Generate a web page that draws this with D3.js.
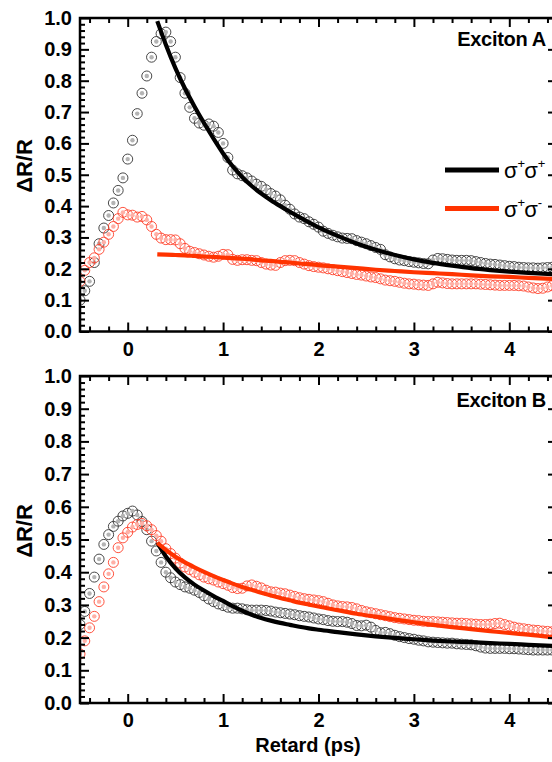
<!DOCTYPE html>
<html>
<head>
<meta charset="utf-8">
<script src="https://cdn.jsdelivr.net/npm/d3@7"></script>
<style>
  html, body { margin: 0; padding: 0; background: #fff; }
  svg { display: block; }
  text { font-family: "Liberation Sans", Arial, sans-serif; }
</style>
</head>
<body>
<svg id="chart" width="552" height="762"></svg>
<script>
// Pump-probe delay (ps)
const delays = [
  -0.50,-0.45,-0.40,-0.35,-0.30,-0.25,-0.20,-0.15,-0.10,-0.05,
   0.00, 0.05, 0.10, 0.15, 0.20, 0.25, 0.30, 0.35, 0.40, 0.45,
   0.50, 0.55, 0.60, 0.65, 0.70, 0.75, 0.80, 0.85, 0.90, 0.95,
   1.00, 1.05, 1.10, 1.15, 1.20, 1.25, 1.30, 1.35, 1.40, 1.45,
   1.50, 1.55, 1.60, 1.65, 1.70, 1.75, 1.80, 1.85, 1.90, 1.95,
   2.00, 2.05, 2.10, 2.15, 2.20, 2.25, 2.30, 2.35, 2.40, 2.45,
   2.50, 2.55, 2.60, 2.65, 2.70, 2.75, 2.80, 2.85, 2.90, 2.95,
   3.00, 3.05, 3.10, 3.15, 3.20, 3.25, 3.30, 3.35, 3.40, 3.45,
   3.50, 3.55, 3.60, 3.65, 3.70, 3.75, 3.80, 3.85, 3.90, 3.95,
   4.00, 4.05, 4.10, 4.15, 4.20, 4.25, 4.30, 4.35, 4.40, 4.45,
   4.50
];

// Exciton A, co-circular (σ+σ+)
const excitonA_co = [
  0.100,0.130,0.160,0.220,0.280,0.330,0.370,0.410,0.450,0.490,
  0.550,0.610,0.695,0.760,0.815,0.875,0.925,0.950,0.955,0.925,
  0.875,0.810,0.760,0.715,0.680,0.665,0.658,0.662,0.655,0.635,
  0.600,0.555,0.515,0.503,0.497,0.490,0.480,0.470,0.463,0.452,
  0.440,0.432,0.420,0.403,0.390,0.375,0.365,0.360,0.350,0.342,
  0.333,0.320,0.313,0.307,0.302,0.298,0.297,0.296,0.290,0.285,
  0.280,0.274,0.268,0.262,0.245,0.238,0.232,0.228,0.226,0.223,
  0.221,0.219,0.217,0.216,0.228,0.233,0.232,0.230,0.228,0.227,
  0.227,0.227,0.226,0.223,0.220,0.217,0.215,0.214,0.212,0.210,
  0.208,0.207,0.205,0.204,0.203,0.203,0.202,0.203,0.204,0.205,
  0.204
];

// Exciton A, cross-circular (σ+σ-)
const excitonA_cross = [
  0.160,0.195,0.220,0.235,0.262,0.285,0.310,0.335,0.360,0.380,
  0.372,0.371,0.365,0.367,0.356,0.335,0.310,0.298,0.293,0.293,
  0.292,0.280,0.265,0.256,0.252,0.248,0.244,0.240,0.237,0.240,
  0.246,0.245,0.230,0.227,0.229,0.229,0.227,0.226,0.220,0.215,
  0.212,0.211,0.220,0.226,0.227,0.226,0.220,0.215,0.210,0.207,
  0.205,0.203,0.200,0.197,0.194,0.191,0.188,0.185,0.182,0.180,
  0.177,0.174,0.172,0.168,0.164,0.162,0.160,0.157,0.154,0.152,
  0.151,0.149,0.148,0.147,0.152,0.157,0.155,0.153,0.152,0.152,
  0.152,0.152,0.152,0.152,0.151,0.150,0.149,0.148,0.147,0.147,
  0.147,0.147,0.146,0.145,0.142,0.139,0.137,0.138,0.142,0.146,
  0.147
];

// Exciton B, co-circular (σ+σ+)
const excitonB_co = [
  0.240,0.280,0.335,0.385,0.440,0.485,0.515,0.540,0.556,0.572,
  0.580,0.587,0.575,0.555,0.530,0.495,0.465,0.430,0.400,0.383,
  0.370,0.362,0.355,0.351,0.345,0.338,0.328,0.318,0.310,0.303,
  0.298,0.293,0.290,0.290,0.288,0.285,0.284,0.284,0.284,0.283,
  0.281,0.278,0.276,0.274,0.272,0.270,0.267,0.265,0.263,0.260,
  0.257,0.255,0.252,0.250,0.249,0.249,0.247,0.243,0.237,0.236,
  0.238,0.232,0.222,0.215,0.216,0.212,0.207,0.203,0.200,0.197,
  0.195,0.192,0.190,0.187,0.186,0.185,0.184,0.183,0.183,0.181,
  0.180,0.179,0.178,0.175,0.171,0.168,0.167,0.167,0.167,0.167,
  0.166,0.166,0.165,0.164,0.163,0.162,0.162,0.162,0.162,0.162,
  0.162
];

// Exciton B, cross-circular (σ+σ-)
const excitonB_cross = [
  0.150,0.190,0.230,0.265,0.310,0.355,0.395,0.430,0.475,0.505,
  0.522,0.538,0.546,0.549,0.542,0.530,0.512,0.495,0.472,0.457,
  0.443,0.428,0.416,0.408,0.400,0.392,0.385,0.380,0.376,0.370,
  0.365,0.360,0.353,0.350,0.351,0.358,0.361,0.357,0.352,0.345,
  0.340,0.339,0.336,0.334,0.330,0.326,0.322,0.319,0.317,0.315,
  0.313,0.310,0.305,0.300,0.297,0.295,0.294,0.292,0.288,0.283,
  0.279,0.276,0.273,0.270,0.267,0.264,0.261,0.259,0.257,0.255,
  0.253,0.252,0.250,0.249,0.249,0.248,0.247,0.246,0.245,0.244,
  0.244,0.243,0.242,0.241,0.240,0.240,0.241,0.243,0.244,0.240,
  0.236,0.232,0.229,0.227,0.225,0.223,0.222,0.220,0.219,0.218,
  0.218
];

// Decay fits, sampled on a shared delay grid (ps)
const fitDelays = [
  0.31,0.4,0.5,0.6,0.7,0.8,0.9,1.0,1.1,1.2,1.3,1.4,1.5,1.6,1.7,
  1.8,1.9,2.0,2.2,2.4,2.6,2.8,3.0,3.2,3.4,3.6,3.8,4.0,4.2,4.5
];
const fitA_co = [
  0.990,0.915,0.840,0.775,0.718,0.665,0.615,0.568,0.527,0.493,0.464,0.440,0.419,0.400,0.382,
  0.365,0.348,0.332,0.305,0.281,0.261,0.244,0.230,0.219,0.210,0.202,0.196,0.191,0.187,0.182
];
const fitA_cross = [
  0.246,0.245,0.244,0.243,0.241,0.239,0.238,0.236,0.234,0.232,0.230,0.227,0.225,0.222,0.220,
  0.217,0.215,0.212,0.207,0.202,0.197,0.193,0.189,0.186,0.183,0.179,0.176,0.174,0.171,0.167
];
const fitB_co = [
  0.490,0.448,0.412,0.384,0.362,0.344,0.327,0.312,0.296,0.282,0.270,0.260,0.252,0.245,0.239,
  0.233,0.228,0.224,0.217,0.210,0.204,0.199,0.195,0.191,0.188,0.186,0.183,0.181,0.178,0.174
];
const fitB_cross = [
  0.490,0.468,0.447,0.430,0.415,0.401,0.388,0.376,0.365,0.355,0.346,0.337,0.329,0.321,0.314,
  0.307,0.301,0.295,0.284,0.273,0.264,0.255,0.247,0.239,0.232,0.226,0.220,0.214,0.209,0.200
];

// Axis ticks
const xMajor = [0, 1, 2, 3, 4];
const yMajor = [0.0, 0.1, 0.2, 0.3, 0.4, 0.5, 0.6, 0.7, 0.8, 0.9, 1.0];
const xLabel = "Retard (ps)";
const yLabel = "\u0394R/R";
const legendItems = [
  { key: "co", base: "\u03c3", sup1: "+", sup2: "+" },
  { key: "cross", base: "\u03c3", sup1: "+", sup2: "-" }
];

const COLORS = {
  co:    { line: "#000000", stroke: "#333333", dot: "#b4b4b4" },
  cross: { line: "#ff3300", stroke: "#ff4029", dot: "#ffb0a6" }
};

const svg = d3.select("#chart");
const x = d3.scaleLinear().domain([-0.5, 4.5]).range([80, 557]);

const xMinor = d3.range(-0.4, 4.5, 0.2).filter(v => Math.abs(v - Math.round(v)) > 1e-6);
const yMinor = d3.range(0, 1.001, 0.02).filter(v => Math.abs(v * 10 - Math.round(v * 10)) > 1e-6);

const panels = [
  { top: 18, bottom: 331.5, co: excitonA_co, cross: excitonA_cross,
    fitCo: fitA_co, fitCross: fitA_cross, name: "Exciton A", nameY: 46,
    titleY: 166, legend: true },
  { top: 376, bottom: 703, co: excitonB_co, cross: excitonB_cross,
    fitCo: fitB_co, fitCross: fitB_cross, name: "Exciton B", nameY: 407,
    titleY: 531, legend: false }
];

panels.forEach((p, i) => {
  const y = d3.scaleLinear().domain([0, 1]).range([p.bottom, p.top]);
  const g = svg.append("g");

  const clipId = "clip" + i;
  svg.append("clipPath").attr("id", clipId)
    .append("rect")
    .attr("x", x.range()[0]).attr("y", p.top)
    .attr("width", x.range()[1] - x.range()[0])
    .attr("height", p.bottom - p.top);

  const plot = g.append("g").attr("clip-path", `url(#${clipId})`);

  // Measured points: open circles with a light centre
  [["co", p.co], ["cross", p.cross]].forEach(([key, vals]) => {
    const c = COLORS[key];
    const pts = delays.map((t, k) => ({ t, v: vals[k] }));
    const s = plot.append("g");
    s.selectAll("circle.ring").data(pts).join("circle")
      .attr("class", "ring")
      .attr("cx", d => x(d.t)).attr("cy", d => y(d.v))
      .attr("r", 5)
      .attr("fill", "none")
      .attr("stroke", c.stroke)
      .attr("stroke-width", 0.9);
    s.selectAll("circle.core").data(pts).join("circle")
      .attr("class", "core")
      .attr("cx", d => x(d.t)).attr("cy", d => y(d.v))
      .attr("r", 2.2)
      .attr("fill", c.dot);
  });

  // Fitted decays
  const line = d3.line().x(d => x(d.t)).y(d => y(d.v)).curve(d3.curveMonotoneX);
  [["co", p.fitCo], ["cross", p.fitCross]].forEach(([key, vals]) => {
    plot.append("path")
      .datum(fitDelays.map((t, k) => ({ t, v: vals[k] })))
      .attr("d", line)
      .attr("fill", "none")
      .attr("stroke", COLORS[key].line)
      .attr("stroke-width", 4.2)
      .attr("stroke-linecap", "butt");
  });

  // Axes (ticks pointing inward)
  const styleAxis = sel => {
    sel.select(".domain").remove();
    sel.selectAll(".tick line").attr("stroke", "#000").attr("stroke-width", 2);
    sel.selectAll(".tick text")
      .attr("fill", "#000")
      .style("font-size", "20px")
      .style("font-weight", "bold");
  };

  g.append("g").attr("transform", `translate(0,${p.bottom})`)
    .call(d3.axisBottom(x).tickValues(xMajor).tickSize(-9).tickPadding(10).tickFormat(d3.format("d")))
    .call(styleAxis);
  g.append("g").attr("transform", `translate(0,${p.bottom})`)
    .call(d3.axisBottom(x).tickValues(xMinor).tickSize(-5).tickFormat(""))
    .call(styleAxis);
  g.append("g").attr("transform", `translate(0,${p.top})`)
    .call(d3.axisTop(x).tickValues(xMajor).tickSize(-9).tickFormat(""))
    .call(styleAxis);
  g.append("g").attr("transform", `translate(0,${p.top})`)
    .call(d3.axisTop(x).tickValues(xMinor).tickSize(-5).tickFormat(""))
    .call(styleAxis);

  g.append("g").attr("transform", `translate(${x.range()[0]},0)`)
    .call(d3.axisLeft(y).tickValues(yMajor).tickSize(-9).tickPadding(8).tickFormat(d3.format(".1f")))
    .call(styleAxis);
  g.append("g").attr("transform", `translate(${x.range()[0]},0)`)
    .call(d3.axisLeft(y).tickValues(yMinor).tickSize(-5).tickFormat(""))
    .call(styleAxis);
  g.append("g").attr("transform", `translate(${x.range()[1]},0)`)
    .call(d3.axisRight(y).tickValues(yMajor).tickSize(-9).tickFormat(""))
    .call(styleAxis);
  g.append("g").attr("transform", `translate(${x.range()[1]},0)`)
    .call(d3.axisRight(y).tickValues(yMinor).tickSize(-5).tickFormat(""))
    .call(styleAxis);

  // Frame
  g.append("rect")
    .attr("x", x.range()[0]).attr("y", p.top)
    .attr("width", x.range()[1] - x.range()[0])
    .attr("height", p.bottom - p.top)
    .attr("fill", "none").attr("stroke", "#000").attr("stroke-width", 2.5);

  // Panel name
  g.append("text")
    .attr("x", 546).attr("y", p.nameY)
    .attr("text-anchor", "end")
    .style("font-size", "20px").style("font-weight", "bold")
    .style("letter-spacing", "-0.3px")
    .text(p.name);

  // Y title
  g.append("text")
    .attr("transform", `translate(32,${p.titleY}) rotate(-90)`)
    .attr("text-anchor", "middle")
    .style("font-size", "22px").style("font-weight", "bold")
    .text(yLabel);

  // Legend
  if (p.legend) {
    legendItems.forEach((it, k) => {
      const ly = 170 + k * 38.5;
      g.append("line")
        .attr("x1", 445).attr("x2", 499).attr("y1", ly).attr("y2", ly)
        .attr("stroke", COLORS[it.key].line).attr("stroke-width", 5);
      const t = g.append("text")
        .attr("x", 504).attr("y", ly + 8)
        .style("font-size", "22px");
      t.append("tspan").text(it.base);
      t.append("tspan").attr("dy", -10).style("font-size", "13px").text(it.sup1);
      t.append("tspan").attr("dy", 10).attr("dx", -1).text(it.base);
      t.append("tspan").attr("dy", -10).style("font-size", "13px").text(it.sup2);
    });
  }
});

// X title
svg.append("text")
  .attr("x", 308).attr("y", 752)
  .attr("text-anchor", "middle")
  .style("font-size", "20px").style("font-weight", "bold")
  .text(xLabel);
</script>
</body>
</html>
